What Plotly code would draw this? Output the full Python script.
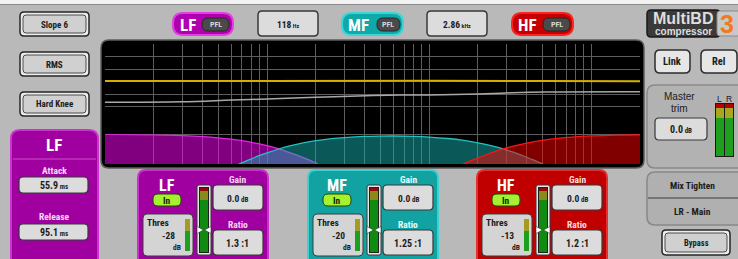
import math
import plotly.graph_objects as go

W, H = 738, 259

# ---------------- data ----------------
FREQ_GRID_HZ = [20, 30, 40, 50, 60, 70, 80, 90, 100,
                200, 300, 400, 500, 600, 700, 800, 900, 1000,
                2000, 3000, 4000, 5000, 6000, 7000, 8000, 9000, 10000]
LEVEL_GRID_DB = [-36, -25, -20, -15, -10, -5]

THRESHOLD_LINE_HZ = [10, 100, 1000, 5000, 20000]
THRESHOLD_LINE_DB = [-14.8, -14.8, -14.7, -14.8, -14.9]

GAIN_CURVE_HZ = [10, 30, 61, 100, 200, 409, 653, 1000, 2000, 3240, 5260, 20000]
GAIN_CURVE_DB = [-23.3, -23.1, -22.4, -22.0, -21.3, -20.7, -20.4, -20.4, -20.0, -19.5, -19.2, -19.1]

BAND_FLOOR_DB = -6.1
LF_HZ = [10, 20, 30, 40, 50, 60, 70, 80, 90, 100, 118, 130, 150, 170, 190, 200, 205]
LF_DB = [-0.03, -0.12, -0.27, -0.47, -0.72, -1.00, -1.31, -1.64, -1.99, -2.35, -3.01,
         -3.45, -4.18, -4.88, -5.55, -5.88, -6.1]
MF_HZ = [67, 70, 80, 90, 100, 118, 140, 170, 200, 250, 300, 400, 500, 600, 800, 1000,
         1300, 1600, 2000, 2400, 2860, 3300, 4000, 4600, 5050]
MF_DB = [-6.1, -5.86, -5.03, -4.35, -3.80, -3.02, -2.34, -1.72, -1.32, -0.90, -0.67, -0.44,
         -0.37, -0.35, -0.42, -0.56, -0.86, -1.20, -1.74, -2.32, -3.01, -3.68, -4.71, -5.55, -6.1]
HF_HZ = [1620, 1800, 2000, 2400, 2860, 3300, 4000, 5000, 6000, 8000, 10000, 13000, 16000, 20000]
HF_DB = [-6.1, -5.47, -4.84, -3.84, -3.01, -2.43, -1.79, -1.23, -0.89, -0.52, -0.34, -0.21, -0.14, -0.09]

BAND_NAMES = ["LF", "MF", "HF"]
BAND_THRESH = ["-28", "-20", "-13"]
BAND_GAIN = ["0.0", "0.0", "0.0"]
BAND_RATIO = ["1.3 :1", "1.25 :1", "1.2 :1"]
CROSSOVER_VALUES = ["118", "2.86"]
CROSSOVER_UNITS = ["Hz", "kHz"]
LEFT_BUTTONS = ["Slope 6", "RMS", "Hard Knee"]
LF_ATTACK_MS = "55.9"
LF_RELEASE_MS = "95.1"
MASTER_TRIM = "0.0"

FONT = "Liberation Sans Narrow, Roboto Condensed, DejaVu Sans Condensed, Liberation Sans, sans-serif"
WIDE = "Liberation Sans, Arial, sans-serif"

# ---------------- helpers ----------------
def X(px):
    return px / W

def Y(py):
    return 1 - py / H

shapes = []
annotations = []

def rr(x0, y0, x1, y1, r, fill, line=None, lw=0.0):
    p = (f"M {X(x0 + r)},{Y(y0)} L {X(x1 - r)},{Y(y0)} Q {X(x1)},{Y(y0)} {X(x1)},{Y(y0 + r)} "
         f"L {X(x1)},{Y(y1 - r)} Q {X(x1)},{Y(y1)} {X(x1 - r)},{Y(y1)} "
         f"L {X(x0 + r)},{Y(y1)} Q {X(x0)},{Y(y1)} {X(x0)},{Y(y1 - r)} "
         f"L {X(x0)},{Y(y0 + r)} Q {X(x0)},{Y(y0)} {X(x0 + r)},{Y(y0)} Z")
    shapes.append(dict(type="path", xref="paper", yref="paper", path=p, fillcolor=fill,
                       line=dict(color=line or fill, width=lw), layer="below"))

def rect(x0, y0, x1, y1, fill):
    shapes.append(dict(type="rect", xref="paper", yref="paper", x0=X(x0), x1=X(x1),
                       y0=Y(y1), y1=Y(y0), fillcolor=fill, line=dict(width=0), layer="below"))

def hline(x0, x1, y, color, w=1):
    shapes.append(dict(type="line", xref="paper", yref="paper", x0=X(x0), x1=X(x1),
                       y0=Y(y), y1=Y(y), line=dict(color=color, width=w), layer="below"))

def tri(pts, fill):
    p = "M " + " L ".join(f"{X(a)},{Y(b)}" for a, b in pts) + " Z"
    shapes.append(dict(type="path", xref="paper", yref="paper", path=p, fillcolor=fill,
                       line=dict(color="#202020", width=0.5), layer="below"))

def txt(px, py, s, size, color="#1c1c1c", weight=700, family=FONT, xanchor="center"):
    annotations.append(dict(x=X(px), y=Y(py), xref="paper", yref="paper", text=s,
                            showarrow=False, xanchor=xanchor, yanchor="middle", borderpad=0,
                            font=dict(family=family, size=size, color=color, weight=weight)))

def unit(v, u, usize=7):
    return f"{v}<span style='font-size:{usize}px'> {u}</span>"

def dbl_button(x0, y0, x1, y1, label, size=9):
    rr(x0, y0, x1, y1, 4, "#ededed", "#262626", 1.5)
    rr(x0 + 3, y0 + 3, x1 - 3, y1 - 3, 3, "#d0d0d0", "#4a4a4a", 1)
    txt((x0 + x1) / 2, (y0 + y1) / 2 + 0.5, label, size)

def value_box(x0, y0, x1, y1, label, size=10):
    rr(x0, y0, x1, y1, 4, "#dcdcdc", "#383838", 1.2)
    txt((x0 + x1) / 2, (y0 + y1) / 2 + 0.5, label, size)

# ---------------- background ----------------
rect(0, 0, W, 4, "#f2f2f2")
rect(0, 4, W, 5, "#8c8c8c")

for i, lab in enumerate(LEFT_BUTTONS):
    y0 = 12 + i * 40
    dbl_button(20, y0, 89, y0 + 24, lab)

# left LF panel
rr(11, 130, 98, 272, 9, "#a000a0", "#cc33cc", 2)
hline(13, 96, 159, "#c850c8", 1)
txt(54, 145, "LF", 17, "white")
txt(54, 170, "Attack", 9.5, "#f6dcf6")
value_box(19, 177, 88, 193, unit(LF_ATTACK_MS, "ms"))
txt(54, 216, "Release", 9.5, "#f6dcf6")
value_box(19, 224, 88, 240, unit(LF_RELEASE_MS, "ms"))

# top band pills
pills = [
    (173, 233, 188, 202, 229, "#b000b0", "#e040e0"),
    (342, 403, 358, 377, 400, "#10a8a8", "#38d6d6"),
    (512, 573, 527, 543, 570, "#c40000", "#ff2020"),
]
for (x0, x1, ncx, p0, p1, col, brd), name in zip(pills, BAND_NAMES):
    rr(x0, 13, x1, 35, 10, col, brd, 2)
    txt(ncx, 24.5, name, 17, "white")
    rr(p0, 18, p1, 31, 6, "#4a4a4a", "#262626", 1)
    txt((p0 + p1) / 2, 24.8, "PFL", 8, "#d6d6d6")

for (x0, x1), v, u in zip([(258, 318), (427, 487)], CROSSOVER_VALUES, CROSSOVER_UNITS):
    rr(x0, 11, x1, 36, 4, "#dcdcdc", "#383838", 1.5)
    txt((x0 + x1) / 2, 24, unit(v, u, usize=6), 9.5)

# logo
rr(647, 10, 720, 37, 4, "#3a3a3a", "#1a1a1a", 1.5)
txt(683, 18.5, "MultiBD", 16, "#dedede", family=WIDE)
txt(683, 31.5, "compressor", 10, "#dedede", family=WIDE)
rr(717, 11, 742, 36, 3, "#c8c8c8", "#8a8a8a", 1)
txt(727, 23.5, "3", 25, "#f07a1c", family=WIDE)

# display frame
rr(101, 40, 644, 168, 8, "#000000", "#5c5c5c", 1.5)

# right side
for (x0, x1), lab in zip([(655, 690), (701, 737)], ["Link", "Rel"]):
    rr(x0, 50, x1, 73, 5, "#e6e6e6", "#2c2c2c", 1.5)
    txt((x0 + x1) / 2, 62, lab, 10.5)
rr(647, 85, 748, 168, 8, "#b2b2b2", "#8a8a8a", 1.5)
txt(679, 97, "Master", 10, weight=400, family=WIDE)
txt(679, 108, "trim", 10, weight=400, family=WIDE)
value_box(655, 118, 707, 140, unit(MASTER_TRIM, "dB"), 10)
txt(719, 99, "L", 8.5, weight=400, family=WIDE)
txt(729, 99, "R", 8.5, weight=400, family=WIDE)
rect(715, 103, 734, 157, "#1a1a1a")
for bx in (716, 725):
    rect(bx, 104, bx + 8, 108, "#b80000")
    rect(bx, 108, bx + 8, 118, "#a8a820")
    rect(bx, 118, bx + 8, 156, "#1ea01e")

rr(647, 172, 748, 225, 8, "#b0b0b0", "#888888", 1.5)
hline(648, 738, 198, "#3a3a3a", 1)
txt(692, 185, "Mix Tighten", 9.5)
txt(692, 211, "LR - Main", 9.5)
dbl_button(662, 230, 730, 255, "Bypass", 8.5)

# bottom band panels
band_styles = [
    ("#a000a0", "#cc30cc", "#f6d6f6"),
    ("#12a2a2", "#3cd0d0", "#e4ffff"),
    ("#c00000", "#e43030", "#ffdcdc"),
]
for i, (dx, (fill, brd, lab)) in enumerate(zip([0, 170, 339], band_styles)):
    rr(138 + dx, 170, 268 + dx, 270, 8, fill, brd, 2)
    txt(167 + dx, 185, BAND_NAMES[i], 16, "white")
    rr(153 + dx, 194, 181 + dx, 206, 5, "#a6f032", "#1e4a00", 1)
    txt(167 + dx, 200.5, "In", 9.5, "#0e2a00")
    rr(143 + dx, 214, 193 + dx, 256, 4, "#d4d4d4", "#3c3c3c", 1)
    txt(146 + dx, 222, "Thres", 9.5, xanchor="left")
    txt(168 + dx, 235, BAND_THRESH[i], 9.5)
    txt(177 + dx, 247.5, "dB", 7.5)
    rect(185 + dx, 219, 190 + dx, 231, "#a49c20")
    rect(185 + dx, 231, 190 + dx, 251, "#1ea01e")
    rr(197 + dx, 185, 211 + dx, 255, 2, "#e6e6e6", "#3a3a3a", 1)
    rect(199 + dx, 187, 209 + dx, 253, "#202020")
    rect(200 + dx, 188, 208 + dx, 191, "#8c0c0c")
    rect(200 + dx, 191, 208 + dx, 200, "#8a8a1a")
    rect(200 + dx, 200, 208 + dx, 252, "#108a10")
    tri([(197 + dx, 226.5), (203.5 + dx, 230), (197 + dx, 233.5)], "white")
    tri([(211 + dx, 226.5), (204.5 + dx, 230), (211 + dx, 233.5)], "white")
    txt(238 + dx, 179.5, "Gain", 9.5, lab)
    value_box(213 + dx, 185, 263 + dx, 210, unit(BAND_GAIN[i], "dB"), 9.5)
    txt(238 + dx, 224.5, "Ratio", 9.5, lab)
    value_box(213 + dx, 230, 263 + dx, 255, BAND_RATIO[i], 10)

# ---------------- traces ----------------
fig = go.Figure()

band_traces = [
    (LF_HZ, LF_DB, "rgba(255,0,255,0.5)", "#e228e2"),
    (MF_HZ, MF_DB, "rgba(22,176,176,0.5)", "#22c2c2"),
    (HF_HZ, HF_DB, "rgba(255,0,0,0.5)", "#ff1414"),
]
for fx, fy, fc, lc in band_traces:
    fig.add_trace(go.Scatter(x=fx, y=[BAND_FLOOR_DB] * len(fx), xaxis="x", yaxis="y3",
                             mode="lines", line=dict(width=0, simplify=False),
                             hoverinfo="skip", showlegend=False))
    fig.add_trace(go.Scatter(x=fx, y=fy, xaxis="x", yaxis="y3", mode="lines",
                             line=dict(color=lc, width=1.3, shape="spline", simplify=False),
                             fill="tonexty", fillcolor=fc, showlegend=False))

fig.add_trace(go.Scatter(x=THRESHOLD_LINE_HZ, y=THRESHOLD_LINE_DB, mode="lines",
                         line=dict(color="#d4b000", width=2, simplify=False),
                         cliponaxis=False, showlegend=False))
fig.add_trace(go.Scatter(x=GAIN_CURVE_HZ, y=GAIN_CURVE_DB, mode="lines",
                         line=dict(color="#a8a8a8", width=1.5, shape="spline", simplify=False),
                         showlegend=False))

plot_y0 = Y(164)
plot_y1 = Y(44)
fig.update_layout(
    width=W, height=H, margin=dict(l=0, r=0, t=0, b=0),
    paper_bgcolor="#b9b9b9", plot_bgcolor="rgba(0,0,0,0)",
    showlegend=False,
    xaxis=dict(type="log", range=[1, math.log10(20000)], domain=[X(105), X(640)],
               tickvals=FREQ_GRID_HZ, showticklabels=False, ticks="", showgrid=True,
               gridcolor="#5e5e5e", gridwidth=1, zeroline=False, showline=False, fixedrange=True),
    yaxis=dict(range=[-48, 0], domain=[plot_y0, plot_y1], tickvals=LEVEL_GRID_DB,
               showticklabels=False, ticks="", showgrid=True, gridcolor="#5e5e5e", gridwidth=1,
               zeroline=False, showline=False, fixedrange=True),
    yaxis3=dict(range=[BAND_FLOOR_DB, 0], domain=[plot_y0, Y(134.3)], anchor="x",
                showticklabels=False, ticks="", showgrid=False, zeroline=False, showline=False,
                fixedrange=True),
    shapes=shapes, annotations=annotations,
)

fig.write_html("out.html", config={"displayModeBar": False},
               post_script="document.body.style.margin='0';document.body.style.overflow='hidden';")
